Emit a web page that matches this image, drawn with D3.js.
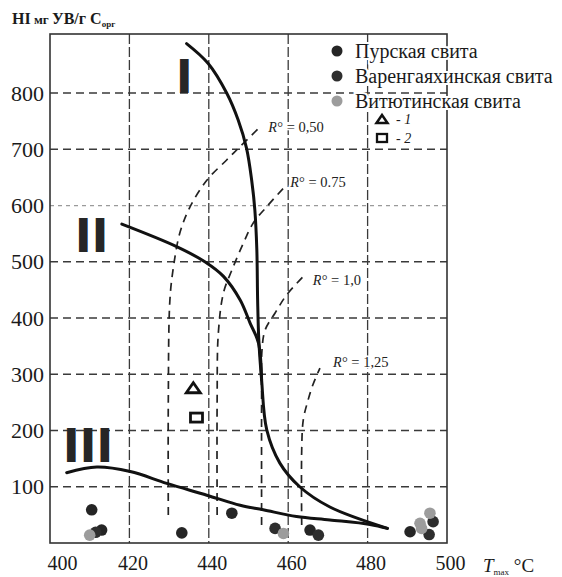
<!DOCTYPE html>
<html>
<head>
<meta charset="utf-8">
<script src="https://cdn.jsdelivr.net/npm/d3@7/dist/d3.min.js"></script>
<style>
  html, body { margin: 0; padding: 0; background: #fff; }
  svg { display: block; }
</style>
</head>
<body>
<svg id="chart" width="562" height="577"></svg>
<script>
// ---------- DATA ----------
const xTicks = [400, 420, 440, 460, 480, 500];
const yTicks = [100, 200, 300, 400, 500, 600, 700, 800];

// Kerogen type curves [Tmax, HI]
const curveI = [[434.4,888],[439.8,853],[444.5,800],[447.4,752],[449.5,702],[450.8,645],[451.6,592],[452.1,521],[452.3,432],[452.6,361],[453.3,290],[454.6,201],[457.9,142],[462.9,100],[470.5,64],[485.0,26]];
const curveII = [[418.1,567],[431.9,527],[439.0,500],[443.7,474],[447.9,432],[450.4,391],[452.5,356],[453.3,290]];
const curveIII = [[404.2,125],[411.8,135],[420.2,127],[429.4,106],[439.5,85],[447.9,67],[453.7,59],[462.1,47],[470.5,41],[480.6,33],[485.0,26]];

// Vitrinite reflectance isolines
const r050 = [[429.8,50],[429.8,254],[430.2,432],[431.1,491],[432.7,551],[435.3,598],[439.5,645],[444.5,681],[447.9,705],[452.5,737]];
const r075 = [[442.1,50],[442.1,254],[442.4,373],[443.7,445],[445.8,485],[448.7,533],[451.2,569],[454.6,598],[459.2,634]];
const r100 = [[453.3,32],[453.3,254],[453.4,343],[454.2,379],[456.7,409],[459.6,441],[464.2,477]];
const r125 = [[463.4,32],[463.4,165],[463.8,219],[465.0,254],[466.2,281],[468.0,311]];
const rLabels = ["0,50", "0.75", "1,0", "1,25"];
const rLabelAt = [[455.0,740],[460.5,642],[466.2,468],[471.3,322]];

// Samples [Tmax, HI]
const purPoints = [[410.5,59],[413.0,23],[433.2,18],[445.8,53],[465.5,23],[490.7,20]];
const varPoints = [[456.7,26],[467.6,14],[496.5,38],[495.5,15],[411.5,19]];
const vitPoints = [[458.8,17],[493.2,35],[495.7,53],[493.6,26],[410.0,14]];
const triPoint = [436.1, 276];
const sqPoint = [436.9, 223];

const seriesNames = ["Пурская свита", "Варенгаяхинская свита", "Витютинская свита"];
const seriesColors = ["#252525", "#2e2e2e", "#9c9c9c"];

// ---------- CHART ----------
const svg = d3.select("#chart");
svg.append("rect").attr("width", 562).attr("height", 577).attr("fill", "#fff");

const x = d3.scaleLinear().domain([400, 500]).range([50, 447]);
const y = d3.scaleLinear().domain([0, 905]).range([543, 34]);

const serif = "'Liberation Serif', 'Times New Roman', serif";

// grid
const grid = svg.append("g");
grid.selectAll("line.h").data(yTicks).join("line")
  .attr("x1", x(400)).attr("x2", x(500))
  .attr("y1", d => y(d)).attr("y2", d => y(d))
  .attr("stroke", d => d === 600 ? "#9a9a9a" : "#3a3a3a")
  .attr("stroke-width", d => d === 600 ? 1.2 : 1.5)
  .attr("stroke-dasharray", d => d === 600 ? "4,4" : "8,5");
grid.selectAll("line.v").data(xTicks.slice(1, -1)).join("line")
  .attr("x1", d => x(d)).attr("x2", d => x(d))
  .attr("y1", y(905)).attr("y2", y(0))
  .attr("stroke", "#3a3a3a").attr("stroke-width", 1.3)
  .attr("stroke-dasharray", "10,3");

// frame
svg.append("rect")
  .attr("x", x(400)).attr("y", y(905))
  .attr("width", x(500) - x(400)).attr("height", y(0) - y(905))
  .attr("fill", "none").attr("stroke", "#333").attr("stroke-width", 1.6);

// axes
const yAxis = svg.append("g").attr("transform", `translate(${x(400)},0)`)
  .call(d3.axisLeft(y).tickValues(yTicks).tickSize(0).tickPadding(6));
const xAxis = svg.append("g").attr("transform", `translate(0,${y(0)})`)
  .call(d3.axisBottom(x).tickValues(xTicks).tickSize(0).tickPadding(13));
yAxis.selectAll("text").attr("font-size", 22);
xAxis.selectAll("text").attr("font-size", 20).attr("dx", d => d === 400 ? 12 : 3);
[yAxis, xAxis].forEach(g => {
  g.select(".domain").remove();
  g.selectAll("text").attr("font-family", serif).attr("fill", "#1a1a1a");
});

// R isolines
const line = d3.line().x(d => x(d[0])).y(d => y(d[1])).curve(d3.curveCatmullRom.alpha(0.5));
[r050, r075, r100, r125].forEach(r => {
  svg.append("path").attr("d", line(r))
    .attr("fill", "none").attr("stroke", "#222").attr("stroke-width", 1.7)
    .attr("stroke-dasharray", "8,6");
});
rLabels.forEach((lab, i) => {
  const t = svg.append("text")
    .attr("x", x(rLabelAt[i][0])).attr("y", y(rLabelAt[i][1]))
    .attr("dy", "0.35em")
    .attr("font-family", serif).attr("font-size", 14.5).attr("fill", "#222")
    .attr("stroke", "#fff").attr("stroke-width", 3).attr("paint-order", "stroke");
  t.append("tspan").attr("font-style", "italic").text("R");
  t.append("tspan").text("°");
  t.append("tspan").text(" = " + lab);
});

// type curves
[curveI, curveII, curveIII].forEach(c => {
  svg.append("path").attr("d", line(c))
    .attr("fill", "none").attr("stroke", "#111").attr("stroke-width", 3)
    .attr("stroke-linecap", "round");
});

// Roman numerals (plain bold sans, stems thickened with stroke)
const romans = [["I", 181, 92], ["II", 80, 251], ["III", 68, 461]];
romans.forEach(r => {
  svg.append("text").attr("x", r[1]).attr("y", r[2])
    .attr("font-family", "'Liberation Sans', Arial, sans-serif").attr("font-weight", "bold")
    .attr("font-size", 47).attr("letter-spacing", 3.7).attr("fill", "#262626")
    .attr("stroke", "#262626").attr("stroke-width", 1.8).attr("stroke-linejoin", "miter")
    .attr("transform", `translate(${-3.3},0)`)
    .text(r[0]);
});

// sample points
[purPoints, varPoints, vitPoints].forEach((pts, i) => {
  svg.append("g").selectAll("circle").data(pts).join("circle")
    .attr("cx", d => x(d[0])).attr("cy", d => y(d[1])).attr("r", 5.8)
    .attr("fill", seriesColors[i]);
});

// triangle and square
const tri = (cx, cy, w, h) => `M${cx - w / 2},${cy + h / 2}L${cx},${cy - h / 2}L${cx + w / 2},${cy + h / 2}Z`;
svg.append("path").attr("d", tri(x(triPoint[0]), y(triPoint[1]), 14, 10))
  .attr("fill", "none").attr("stroke", "#111").attr("stroke-width", 2.8).attr("stroke-linejoin", "miter");
svg.append("rect")
  .attr("x", x(sqPoint[0]) - 6).attr("y", y(sqPoint[1]) - 4.5).attr("width", 12).attr("height", 9)
  .attr("fill", "none").attr("stroke", "#111").attr("stroke-width", 2.8);

// legend
const leg = svg.append("g");
seriesNames.forEach((n, i) => {
  const ly = 51 + i * 25;
  leg.append("circle").attr("cx", 337).attr("cy", ly).attr("r", 5.5).attr("fill", seriesColors[i]);
  leg.append("text").attr("x", 355).attr("y", ly).attr("dy", "0.33em")
    .attr("font-family", serif).attr("font-size", 20).attr("fill", "#1a1a1a")
    .attr("stroke", "#fff").attr("stroke-width", 4).attr("paint-order", "stroke")
    .text(n);
});
leg.append("path").attr("d", tri(382, 119, 11, 8))
  .attr("fill", "none").attr("stroke", "#111").attr("stroke-width", 2.5);
leg.append("rect").attr("x", 377).attr("y", 134).attr("width", 10).attr("height", 8)
  .attr("fill", "none").attr("stroke", "#111").attr("stroke-width", 2.3);
[["1", 119], ["2", 138]].forEach(d => {
  const t = leg.append("text").attr("x", 396).attr("y", d[1]).attr("dy", "0.35em")
    .attr("font-family", serif).attr("font-size", 14).attr("fill", "#1a1a1a");
  t.append("tspan").text("- ");
  t.append("tspan").attr("font-style", "italic").text(d[0]);
});

// axis titles
const yt = svg.append("text").attr("x", 12).attr("y", 24)
  .attr("font-family", serif).attr("font-size", 16).attr("font-weight", "bold").attr("fill", "#1a1a1a");
yt.append("tspan").text("HI");
yt.append("tspan").attr("font-size", 13).text(" мг  ");
yt.append("tspan").text("УВ/г С");
yt.append("tspan").attr("font-size", 9).attr("dy", 3).text("орг");

const xt = svg.append("text").attr("x", 483).attr("y", 572)
  .attr("font-family", serif).attr("font-size", 19).attr("fill", "#1a1a1a");
xt.append("tspan").attr("font-style", "italic").text("T");
xt.append("tspan").attr("font-size", 9).attr("dy", 3).text("max");
xt.append("tspan").attr("dy", -3).text(" °C");
</script>
</body>
</html>
